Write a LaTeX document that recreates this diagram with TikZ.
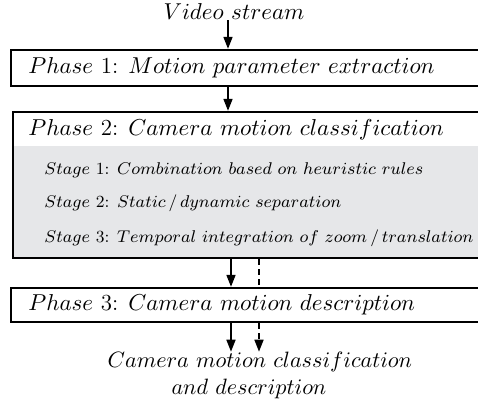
\RequirePackage{fix-cm}
\documentclass[tikz,border=0pt]{standalone}
\usepackage{amsmath,amssymb}
\usepackage{tikz}
\usetikzlibrary{positioning,arrows.meta}
\definecolor{stagegray}{RGB}{230,231,233}

\begin{document}
\begin{tikzpicture}[x=0.5pt,y=-0.5pt,font=\fontsize{11.5}{13.5}\selectfont,
  phasebox/.style={draw,line width=1.2pt,anchor=west,minimum width=245pt,inner xsep=0pt},
  lbl/.style={anchor=west,inner sep=0pt},
  stagelbl/.style={anchor=west,inner sep=0pt,font=\fontsize{8.5}{10}\selectfont},
  flow/.style={-{Triangle[length=6pt,width=4.5pt]},line width=0.8pt},
  dflow/.style={flow,dashed,dash pattern=on 3pt off 2pt}]
\useasboundingbox (0,0) rectangle (478,414);

\node[inner sep=0pt] (video) at (234,12) {$Video\ stream$};

% phase 1
\node[phasebox,minimum height=18pt] (p1) at (10,68) {};
\node[lbl] (p1t) at (28,68) {$Phase$ 1: $Motion\ parameter\ extraction$};

% phase 2 with its stages
\node[fill=stagegray,anchor=north west,minimum width=245pt,minimum height=56pt,inner sep=0pt] (g) at (14,146) {};
\node[phasebox,minimum height=73pt] (p2) at (12,185) {};
\node[lbl] (p2t) at (28,130) {$Phase$ 2: $Camera\ motion\ classification$};
\node[stagelbl] (s1) at (44,170) {$Stage$ 1: $Combination\ based\ on\ heuristic\ rules$};
\node[stagelbl] (s2) at (44,203) {$Stage$ 2: $Static$\,/\,$dynamic\ separation$};
\node[stagelbl] (s3) at (44,238) {$Stage$ 3: $Temporal\ integration\ of\ zoom$\,/\,$translation$};

% phase 3
\node[phasebox,minimum height=17pt] (p3) at (10,305) {};
\node[lbl] (p3t) at (28,305) {$Phase$ 3: $Camera\ motion\ description$};

% output
\node[inner sep=0pt,font=\fontsize{11.1}{13.5}\selectfont] (out) at (260,362) {$Camera\ motion\ classification$};
\node[inner sep=0pt,font=\fontsize{11.1}{13.5}\selectfont] (out2) at (249,389) {$and\ description$};

\coordinate (a) at (228,0);
\coordinate (b) at (231,0);
\coordinate (c) at (259,0);

\draw[flow] (video.south -| a) -- (p1.north -| a);
\draw[flow] (p1.south -| a) -- (p2.north -| a);
\draw[flow] (p2.south -| b) -- (p3.north -| b);
\draw[dashed,dash pattern=on 3pt off 2pt,line width=0.8pt] (p2.south -| c) -- (p3.north -| c);
\draw[flow] (p3.south -| b) -- (out.north -| b);
\draw[dflow] (p3.south -| c) -- (out.north -| c);
\end{tikzpicture}
\end{document}
